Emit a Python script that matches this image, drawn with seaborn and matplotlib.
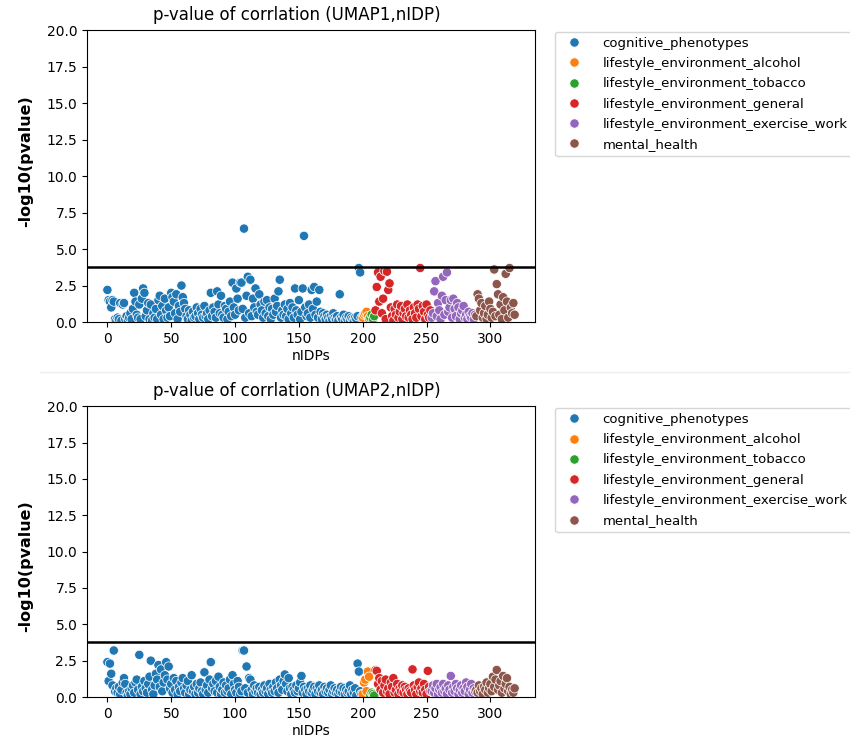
import numpy as np
import pandas as pd
import matplotlib
matplotlib.use('Agg')
import matplotlib.pyplot as plt
import seaborn as sns

# category names in plotting order
groups = ['cognitive_phenotypes', 'lifestyle_environment_alcohol',
          'lifestyle_environment_tobacco', 'lifestyle_environment_general',
          'lifestyle_environment_exercise_work', 'mental_health']

# -log10(pvalue) per nIDP, UMAP1
umap1_cognitive = [
    2.2, 1.5, 1.4, 1.0, 1.5, 1.4, 0.2, 0.1, 0.3, 0.2, 1.3, 0.1, 1.2, 1.3, 0.2, 0.4, 0.1, 0.3, 0.6, 0.2,
    0.9, 2.0, 1.4, 0.5, 0.3, 1.2, 0.2, 1.6, 2.3, 2.0, 0.4, 0.8, 1.3, 0.2, 1.2, 0.1, 0.6, 0.3, 0.9, 0.2,
    1.5, 1.8, 0.5, 1.1, 0.2, 1.6, 0.8, 0.3, 1.0, 0.4, 2.0, 1.7, 1.4, 0.6, 1.9, 0.2, 1.1, 0.7, 2.5, 1.7,
    1.3, 0.9, 0.4, 0.2, 0.8, 0.5, 0.1, 0.7, 0.3, 0.4, 1.0, 0.6, 0.2, 0.9, 0.5, 0.3, 1.1, 0.4, 0.6, 0.2,
    0.8, 2.0, 0.4, 1.0, 0.7, 0.3, 2.1, 1.2, 0.6, 1.8, 0.5, 0.3, 1.1, 0.9, 0.2, 0.7, 1.4, 0.4, 2.7, 1.0,
    0.5, 2.3, 1.6, 0.8, 2.7, 2.7, 0.9, 6.4, 0.3, 1.8, 3.1, 0.6, 2.9, 0.4, 1.6, 1.0, 2.3, 0.7, 0.5, 1.9,
    1.2, 0.8, 0.3, 1.4, 0.6, 1.5, 0.4, 1.0, 0.2, 0.9, 0.5, 1.6, 0.7, 1.1, 2.1, 2.9, 0.3, 0.8, 0.5, 1.2,
    0.4, 0.9, 0.2, 1.3, 0.6, 1.0, 0.3, 2.3, 0.8, 0.5, 1.5, 0.2, 0.7, 2.3, 5.9, 1.0, 0.4, 0.6, 1.2, 0.3,
    2.2, 0.9, 2.4, 0.5, 1.4, 0.3, 2.2, 0.7, 0.2, 0.6, 0.4, 0.2, 0.5, 0.3, 0.1, 0.4, 0.2, 0.6, 0.3, 0.2,
    0.4, 0.1, 1.9, 0.3, 0.2, 0.5, 0.1, 0.3, 0.2, 0.4, 0.1, 0.3, 0.2, 0.1, 0.3, 0.2, 0.4, 3.7, 3.4, 0.3]
umap1_alcohol = [0.3, 0.5, 0.6, 0.7, 0.4, 0.2]
umap1_tobacco = [0.3, 0.5, 0.2, 0.4]
umap1_general = [
    0.8, 2.4, 3.4, 1.4, 3.1, 0.6, 1.6, 3.5, 0.2, 3.45, 2.2, 2.65, 1.0, 0.4, 0.1, 0.9, 0.5, 1.2, 0.3, 0.7,
    1.1, 0.2, 0.6, 0.9, 0.4, 1.2, 0.3, 0.8, 0.5, 0.2, 1.0, 0.6, 0.3, 1.2, 0.9, 3.7, 0.4, 1.1, 0.7, 0.2,
    1.2, 0.5, 0.3, 0.8]
umap1_exercise = [
    0.3, 0.6, 2.1, 2.8, 0.4, 1.3, 0.8, 0.2, 1.8, 3.1, 0.5, 1.5, 3.4, 0.7, 1.0, 1.5, 0.3, 1.6, 0.9, 0.4,
    1.3, 1.0, 0.2, 0.6, 0.8, 1.1, 0.3, 0.5, 0.2, 0.7, 0.4, 0.3, 0.6, 0.2, 0.5]
umap1_mental = [
    0.4, 1.9, 1.6, 0.8, 1.3, 0.3, 0.6, 1.1, 0.2, 0.5, 1.4, 0.9, 0.3, 0.7, 3.6, 0.4, 2.6, 1.9, 0.5, 1.2,
    0.2, 1.7, 0.8, 3.3, 1.4, 0.3, 3.7, 1.0, 0.6, 1.3, 0.5]

# -log10(pvalue) per nIDP, UMAP2
umap2_cognitive = [
    2.4, 1.1, 2.3, 1.6, 0.8, 3.2, 0.4, 0.6, 0.3, 0.7, 0.2, 0.5, 1.0, 1.3, 0.9, 0.3, 0.1, 0.4, 0.2, 0.6,
    0.8, 0.3, 1.0, 1.2, 0.5, 2.9, 0.2, 0.7, 0.4, 1.1, 0.6, 0.3, 0.9, 1.4, 2.5, 0.5, 0.2, 0.8, 1.6, 1.2,
    2.2, 0.7, 1.9, 0.4, 1.0, 1.5, 2.4, 1.2, 2.1, 0.6, 0.9, 0.3, 1.3, 0.5, 1.1, 0.2, 0.7, 0.4, 1.0, 1.3,
    0.6, 0.3, 0.8, 1.1, 0.2, 0.5, 1.5, 0.4, 0.7, 0.2, 0.9, 0.3, 0.6, 1.0, 0.4, 0.2, 1.7, 0.5, 0.8, 0.3,
    1.2, 2.4, 0.6, 0.9, 0.4, 1.1, 0.3, 1.4, 0.7, 0.2, 0.5, 1.0, 0.3, 0.8, 0.4, 0.6, 1.2, 0.2, 1.5, 0.9,
    0.5, 0.3, 1.1, 0.7, 0.2, 0.4, 3.2, 3.2, 0.6, 2.1, 0.3, 1.3, 1.2, 0.5, 0.2, 0.8, 0.4, 0.6, 0.3, 0.7,
    0.2, 0.5, 0.3, 0.8, 0.4, 0.6, 0.2, 0.9, 0.5, 0.3, 0.7, 0.4, 1.0, 0.6, 0.3, 1.2, 0.8, 0.5, 1.1, 1.55,
    0.9, 0.4, 1.3, 0.6, 0.2, 0.7, 0.5, 0.3, 0.8, 0.4, 0.6, 1.0, 1.45, 0.3, 0.7, 0.5, 0.2, 0.6, 0.4, 0.8,
    0.3, 0.5, 0.7, 0.2, 0.6, 0.4, 0.8, 0.3, 0.5, 0.2, 0.7, 0.4, 0.6, 0.3, 0.5, 0.8, 0.2, 0.4, 0.6, 0.3,
    0.5, 0.2, 0.4, 0.7, 0.3, 0.6, 0.2, 0.5, 0.3, 0.4, 0.8, 0.2, 0.5, 0.3, 0.6, 0.1, 2.3, 1.75, 0.4, 0.2]
umap2_alcohol = [0.2, 1.0, 1.2, 0.4, 1.75, 1.4]
umap2_tobacco = [0.1, 0.3, 0.2, 0.1]
umap2_general = [
    1.85, 1.8, 0.9, 1.3, 0.5, 1.1, 0.3, 0.8, 1.2, 0.4, 0.6, 0.2, 1.0, 0.7, 1.3, 0.3, 0.5, 0.9, 0.2, 0.6,
    0.4, 0.8, 0.3, 0.7, 0.5, 0.2, 0.6, 0.4, 0.3, 1.9, 0.8, 0.5, 0.2, 0.7, 1.0, 0.4, 0.6, 0.3, 0.9, 0.5,
    0.2, 1.8, 0.7, 0.4]
umap2_exercise = [
    0.4, 0.8, 0.3, 0.6, 0.9, 0.2, 0.5, 0.7, 0.3, 0.9, 0.4, 0.6, 0.2, 0.8, 0.5, 1.45, 0.3, 0.7, 0.4, 0.9,
    0.6, 0.2, 0.5, 0.8, 0.3, 0.6, 0.4, 1.0, 0.7, 0.2, 0.5, 0.9, 0.3, 0.6, 0.4]
umap2_mental = [
    0.5, 0.3, 0.8, 0.4, 0.6, 0.2, 0.7, 0.5, 1.0, 0.3, 0.6, 0.9, 0.4, 1.4, 0.7, 1.2, 1.86, 0.5, 0.8, 1.1,
    0.3, 1.45, 0.6, 0.9, 1.3, 0.4, 0.7, 0.2, 0.5, 0.3, 0.6]

# bonferroni line, -log10(0.05/320)
threshold = 3.8


def build_frame(series):
    rows = []
    for name, vals in zip(groups, series):
        for v in vals:
            rows.append({'group': name, 'logp': v})
    df = pd.DataFrame(rows)
    df['nIDPs'] = np.arange(len(df))
    return df


df1 = build_frame([umap1_cognitive, umap1_alcohol, umap1_tobacco,
                   umap1_general, umap1_exercise, umap1_mental])
df2 = build_frame([umap2_cognitive, umap2_alcohol, umap2_tobacco,
                   umap2_general, umap2_exercise, umap2_mental])

fig = plt.figure(figsize=(8.5, 7.42), dpi=100)
ax1 = fig.add_axes([0.1024, 0.566, 0.527, 0.3935])
ax2 = fig.add_axes([0.1024, 0.0606, 0.527, 0.392])

# faint divider between the two stacked plots
fig.add_artist(plt.Line2D([0.047, 1.0], [0.498, 0.498], color='#eeeeee', lw=1))

for ax, df, name, ly in [(ax1, df1, 'UMAP1', 0.55), (ax2, df2, 'UMAP2', 0.45)]:
    sns.scatterplot(data=df, x='nIDPs', y='logp', hue='group', hue_order=groups,
                    palette='tab10', s=45, ax=ax)
    ax.axhline(threshold, color='black', lw=1.8)
    ax.set_ylim(0, 20)
    ax.set_yticks(np.arange(0, 20.1, 2.5))
    ax.set_title('p-value of corrlation (%s,nIDP)' % name, fontsize=12, pad=7, x=0.468)
    ax.set_xlabel('nIDPs', labelpad=2)
    ax.set_ylabel('-log10(pvalue)', fontsize=11.5, fontweight='bold')
    ax.yaxis.set_label_coords(-0.12, ly)
    ax.legend(bbox_to_anchor=(1.045, 0.995), loc='upper left', borderaxespad=0,
              fontsize=9.5, labelspacing=0.55, handletextpad=1.2)

plt.savefig('out.png', dpi=100)
